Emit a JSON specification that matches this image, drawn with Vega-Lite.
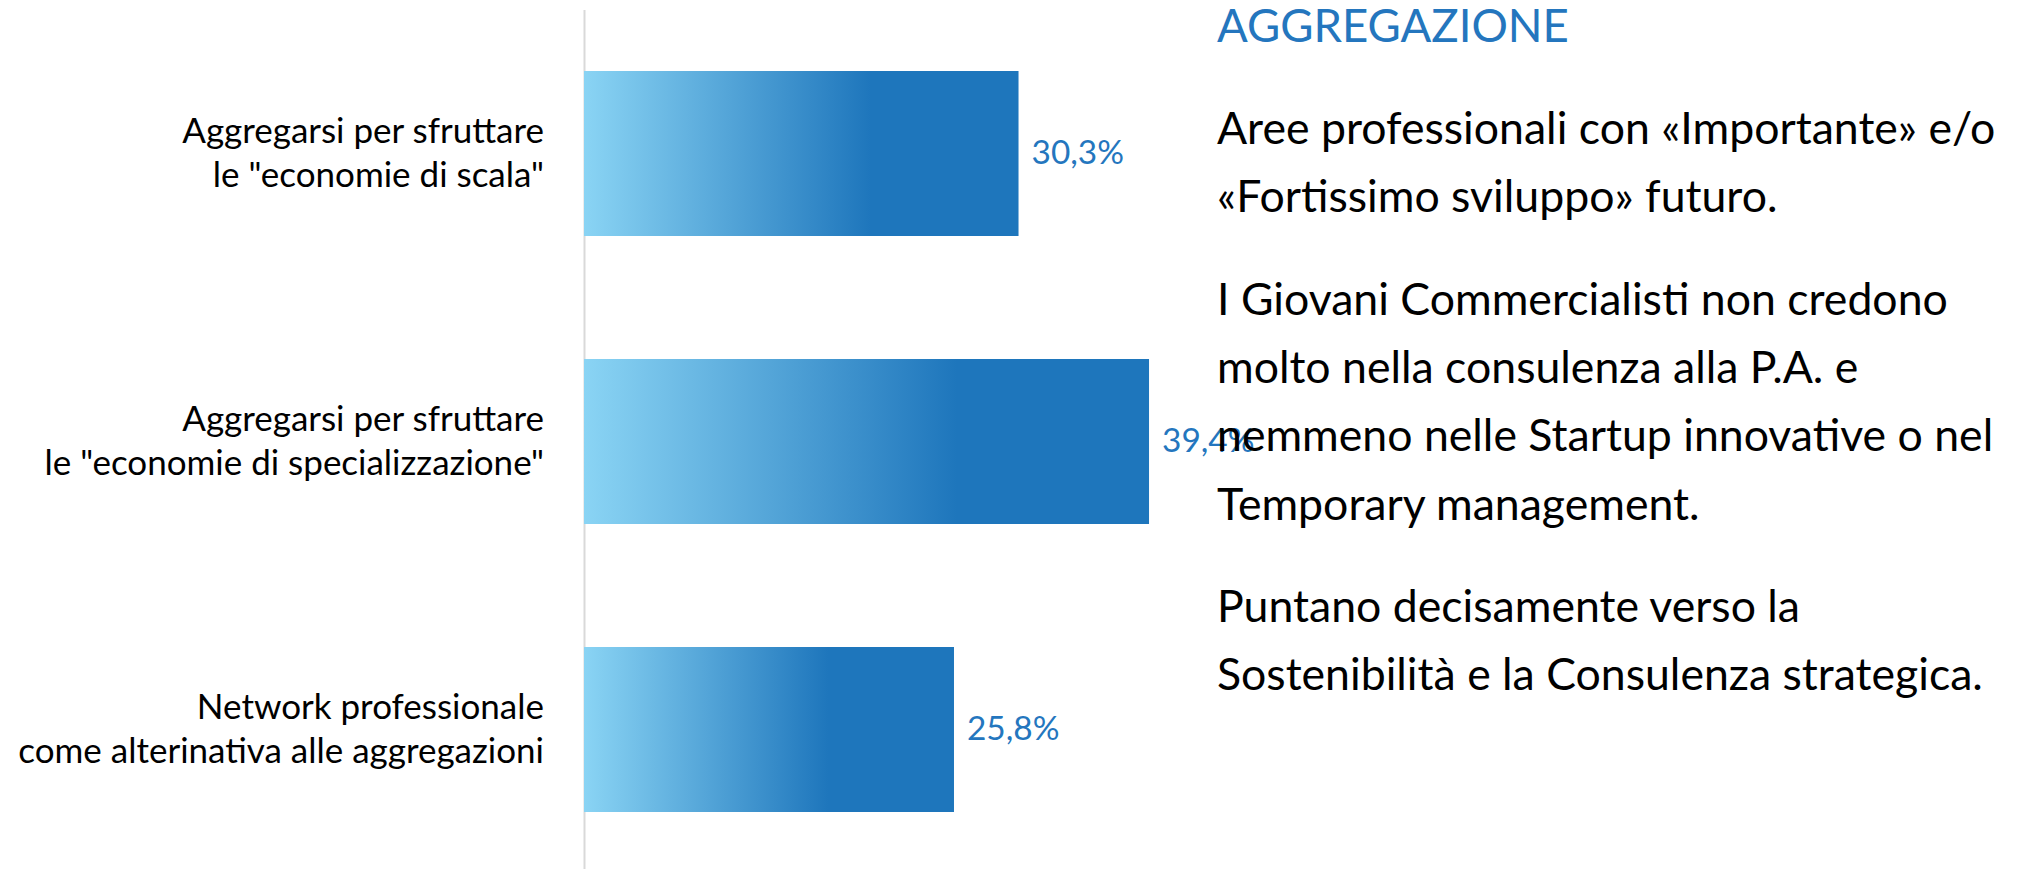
{
  "$schema": "https://vega.github.io/schema/vega-lite/v6.json",
  "autosize": {"type": "pad"},
  "padding": {"left": 17, "top": 5.5, "right": 0, "bottom": 0},
  "background": "white",
  "bounds": "flush",
  "spacing": 2,
  "config": {
    "view": {"stroke": null},
    "font": "Lato",
    "locale": {"number": {"decimal": ",", "thousands": ".", "grouping": [3], "currency": ["€", ""]}}
  },
  "hconcat": [
    {
      "width": 631,
      "height": 864,
      "data": {"values": [
        {"voce": "Aggregarsi per sfruttare|le \"economie di scala\"", "valore": 0.303},
        {"voce": "Aggregarsi per sfruttare|le \"economie di specializzazione\"", "valore": 0.394},
        {"voce": "Network professionale|come alterinativa alle aggregazioni", "valore": 0.258}
      ]},
      "encoding": {
        "y": {
          "field": "voce", "type": "nominal", "sort": null, "title": null,
          "scale": {"paddingInner": 0.427, "paddingOuter": 0.2135},
          "axis": {
            "labelExpr": "split(datum.label, '|')",
            "labelFont": "Lato", "labelFontSize": 35, "labelColor": "#000000",
            "labelLineHeight": 44, "labelPadding": 40.5, "labelLimit": 0, "labelOffset": -22,
            "ticks": false, "grid": false,
            "domain": true, "domainColor": "#d9d9d9", "domainWidth": 2
          }
        },
        "x": {
          "field": "valore", "type": "quantitative", "axis": null,
          "scale": {"domain": [0, 0.44], "nice": false, "zero": true}
        }
      },
      "layer": [
        {
          "mark": {
            "type": "bar",
            "color": {
              "gradient": "linear", "x1": 0, "y1": 0, "x2": 1, "y2": 0,
              "stops": [
                {"offset": 0, "color": "#8ad4f4"},
                {"offset": 0.66, "color": "#1e76bc"},
                {"offset": 1, "color": "#1e76bc"}
              ]
            }
          }
        },
        {
          "mark": {"type": "text", "align": "left", "baseline": "middle", "dx": 13, "fontSize": 33.4, "color": "#2476be", "font": "Lato"},
          "encoding": {"text": {"field": "valore", "type": "quantitative", "format": ".1%"}}
        }
      ]
    },
    {
      "width": 800,
      "height": 864,
      "encoding": {
        "x": {"datum": 0, "type": "quantitative", "axis": null, "scale": {"domain": [0, 1], "nice": false}},
        "y": {
          "field": "riga", "type": "quantitative", "axis": null,
          "scale": {"domain": [-0.937, 24.36], "reverse": true, "nice": false, "zero": false}
        },
        "text": {"field": "testo", "type": "nominal"}
      },
      "layer": [
        {
          "data": {"values": [
            {"testo": "AGGREGAZIONE", "riga": 0}
          ]},
          "mark": {"type": "text", "align": "left", "baseline": "alphabetic", "fontSize": 45.5, "color": "#2476be", "font": "Lato"}
        },
        {
          "data": {"values": [
            {"testo": "Aree professionali con «Importante» e/o", "riga": 3},
            {"testo": "«Fortissimo sviluppo» futuro.", "riga": 5},
            {"testo": "I Giovani Commercialisti non credono", "riga": 8},
            {"testo": "molto nella consulenza alla P.A. e", "riga": 10},
            {"testo": "nemmeno nelle Startup innovative o nel", "riga": 12},
            {"testo": "Temporary management.", "riga": 14},
            {"testo": "Puntano decisamente verso la", "riga": 17},
            {"testo": "Sostenibilità e la Consulenza strategica.", "riga": 19}
          ]},
          "mark": {"type": "text", "align": "left", "baseline": "alphabetic", "fontSize": 44.6, "color": "#000000", "font": "Lato"}
        }
      ]
    }
  ]
}
